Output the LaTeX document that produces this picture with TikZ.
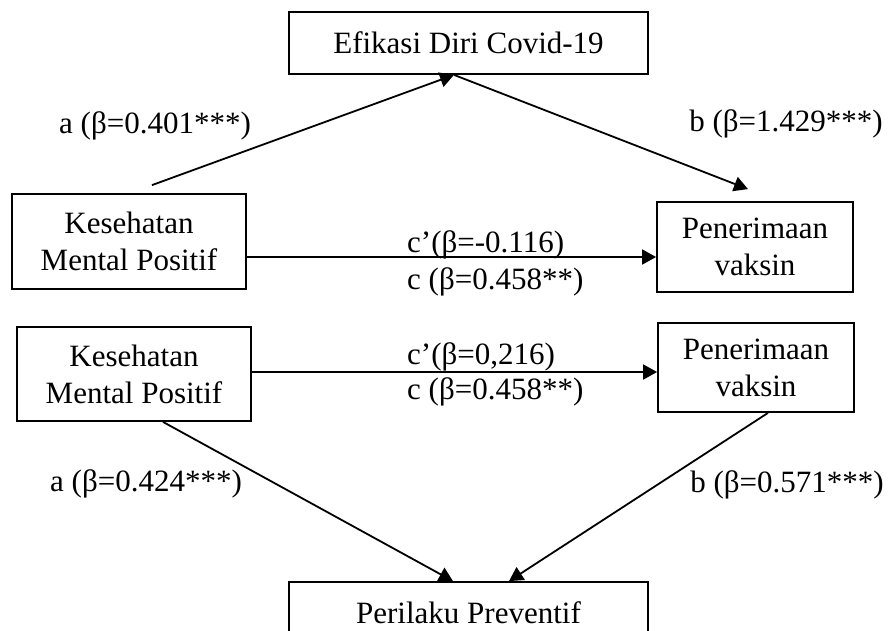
\documentclass[tikz,border=0pt]{standalone}
\usepackage{fontspec}
\setmainfont{Liberation Serif}
\usetikzlibrary{arrows.meta,calc}
\begin{document}
\begin{tikzpicture}[x=1pt,y=-1pt,
  box/.style={draw,line width=1.8pt,inner sep=0pt,align=center,font=\fontsize{31}{37}\selectfont},
  lbl/.style={inner sep=0pt,font=\fontsize{31}{35}\selectfont},
  conn/.style={line width=1.8pt},
  arr/.style={conn,-{Triangle[length=14pt,width=15pt]}}]
\useasboundingbox (0,0) rectangle (892,630);
\clip (0,0) rectangle (892,630);
\fill[white] (0,0) rectangle (892,630);

% boxes
\node[box,minimum width=359pt,minimum height=62pt] (top) at (468.5,43) {Efikasi Diri Covid-19};
\node[box,minimum width=234pt,minimum height=95pt] (kmp1) at (129,241.5) {Kesehatan\\Mental Positif};
\node[box,minimum width=196pt,minimum height=90pt] (pv1) at (755,247) {Penerimaan\\vaksin};
\node[box,minimum width=234pt,minimum height=94pt] (kmp2) at (134,374) {Kesehatan\\Mental Positif};
\node[box,minimum width=196pt,minimum height=89pt] (pv2) at (756,367.5) {Penerimaan\\vaksin};
\node[box,minimum width=359pt,minimum height=62pt] (pp) at (468.5,613) {Perilaku Preventif};

% connector end points
\coordinate (a1s) at ($(kmp1.north)+(23,-8)$);
\coordinate (apex) at ($(top.south)+(-14.5,0)$);
\coordinate (b1e) at ($(pv1.north)+(-7,-12)$);
\coordinate (c1) at (0,257);
\coordinate (c2) at (0,372);
\coordinate (a2s) at ($(kmp2.south)+(29,0)$);
\coordinate (a2e) at ($(pp.north)+(-15.5,0)$);
\coordinate (b2s) at ($(pv2.south)+(12,0)$);
\coordinate (b2e) at ($(pp.north)+(40.5,0)$);

% connectors
\draw[arr] (a1s) -- (apex);
\draw[arr] (apex) -- (b1e);
\draw[arr] (kmp1.east |- c1) -- (pv1.west |- c1);
\draw[arr] (kmp2.east |- c2) -- (pv2.west |- c2);
\draw[arr] (a2s) -- (a2e);
\draw[arr] (b2s) -- (b2e);

% labels
\node[lbl] (la1) at (155,126) {a (β=0.401***)};
\node[lbl] (lb1) at (786,124) {b (β=1.429***)};
\node[lbl,anchor=west] (lc1p) at (407,245) {c’(β=-0.116)};
\node[lbl,anchor=west] (lc1) at (407,282) {c (β=0.458**)};
\node[lbl,anchor=west] (lc2p) at (407,357) {c’(β=0,216)};
\node[lbl,anchor=west] (lc2) at (407,392) {c (β=0.458**)};
\node[lbl] (la2) at (146,484) {a (β=0.424***)};
\node[lbl] (lb2) at (787,485) {b (β=0.571***)};
\end{tikzpicture}
\end{document}
